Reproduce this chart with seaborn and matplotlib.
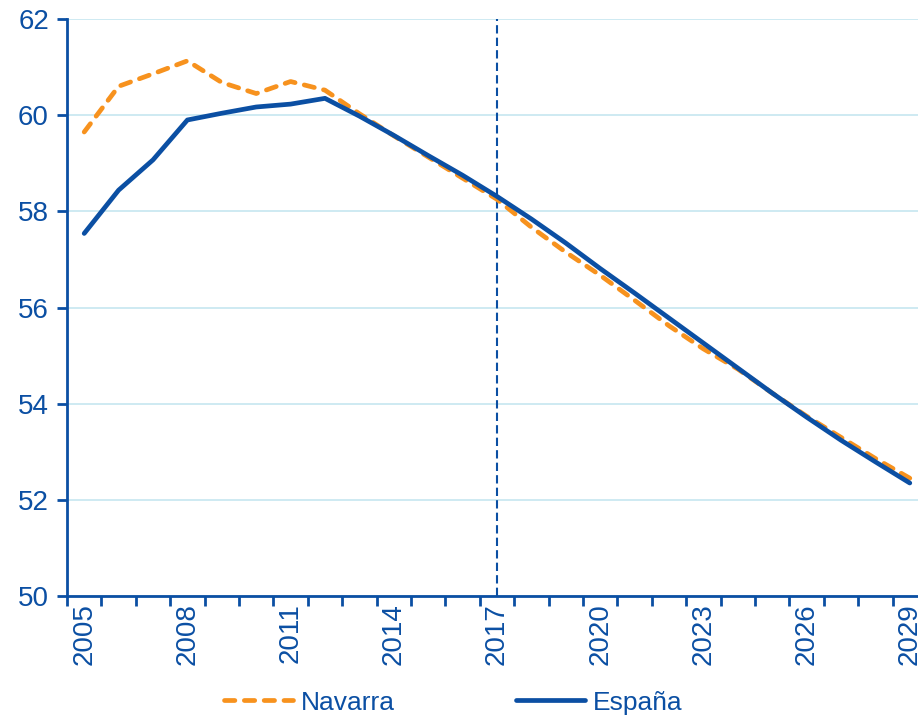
import matplotlib
matplotlib.use("Agg")
import matplotlib.pyplot as plt
import seaborn as sns
import pandas as pd
import numpy as np
from matplotlib.ticker import FixedLocator

years = list(range(2005, 2030))
navarra = [59.65, 60.60, 60.86, 61.13, 60.68, 60.45, 60.70, 60.52, 60.03,
           59.57, 59.13, 58.69, 58.25, 57.67, 57.15, 56.67, 56.15, 55.62,
           55.14, 54.72, 54.22, 53.74, 53.30, 52.86, 52.45]
espana = [57.54, 58.44, 59.07, 59.90, 60.04, 60.17, 60.23, 60.35, 59.98,
          59.58, 59.16, 58.75, 58.31, 57.84, 57.34, 56.81, 56.30, 55.78,
          55.26, 54.74, 54.22, 53.72, 53.24, 52.79, 52.35]
series_names = ["Navarra", "España"]
tick_years = [2005, 2008, 2011, 2014, 2017, 2020, 2023, 2026, 2029]
y_ticks = [50, 52, 54, 56, 58, 60, 62]
ref_year = 2017

BLUE = "#0B4FA3"
ORANGE = "#F7921E"
GRID = "#C6E6F0"

df = pd.DataFrame({
    "year": years * 2,
    "value": navarra + espana,
    "serie": [series_names[0]] * len(years) + [series_names[1]] * len(years),
})

sns.set_style("white")
plt.rcParams["font.family"] = ["Liberation Sans", "DejaVu Sans"]

fig = plt.figure(figsize=(9.18, 7.19), dpi=100)
ax = fig.add_axes([67 / 918, 1 - 596 / 719, 860 / 918, 577 / 719])

sns.lineplot(data=df[df.serie == "Navarra"], x="year", y="value", ax=ax,
             color=ORANGE, lw=3.4, label="Navarra", solid_capstyle="round")
sns.lineplot(data=df[df.serie == "España"], x="year", y="value", ax=ax,
             color=BLUE, lw=3.4, label="España", solid_capstyle="round")
nav_line = ax.lines[0]
nav_line.set_dashes([2.2, 2.0])
nav_line.set_dash_capstyle("round")

ax.axvline(ref_year, color=BLUE, lw=1.5, ls=(0, (4, 2.0)), zorder=1)

ax.set_xlim(years[0] - 0.5, years[-1] + 0.5)
ax.set_ylim(y_ticks[0], y_ticks[-1])
ax.set_yticks(y_ticks)
ax.xaxis.set_major_locator(FixedLocator(tick_years))
ax.set_xticklabels([str(y) for y in tick_years], rotation=90)
ax.xaxis.set_minor_locator(FixedLocator([y - 0.5 for y in years] + [years[-1] + 0.5]))
ax.tick_params(axis="x", which="major", length=0, pad=5, labelsize=20, labelcolor=BLUE)
ax.tick_params(axis="x", which="minor", length=7, width=2, color=BLUE, direction="out", bottom=True)
ax.tick_params(axis="y", which="major", length=7, width=2, color=BLUE, direction="out",
               left=True, labelsize=20, labelcolor=BLUE, pad=6)

ax.grid(axis="y", color=GRID, lw=1.2)
ax.grid(axis="x", visible=False)
ax.set_axisbelow(True)
for s in ["top", "right"]:
    ax.spines[s].set_visible(False)
for s in ["left", "bottom"]:
    ax.spines[s].set_color(BLUE)
    ax.spines[s].set_linewidth(2)
ax.set_xlabel("")
ax.set_ylabel("")

handles, labels = ax.get_legend_handles_labels()
ax.get_legend().remove()
leg = fig.legend(handles, labels, loc="lower center", bbox_to_anchor=(0.494, -0.027),
                 ncol=2, frameon=False, fontsize=19, handlelength=2.6,
                 handletextpad=0.3, columnspacing=4.6)
for t in leg.get_texts():
    t.set_color(BLUE)

fig.savefig("out.png", dpi=100)
